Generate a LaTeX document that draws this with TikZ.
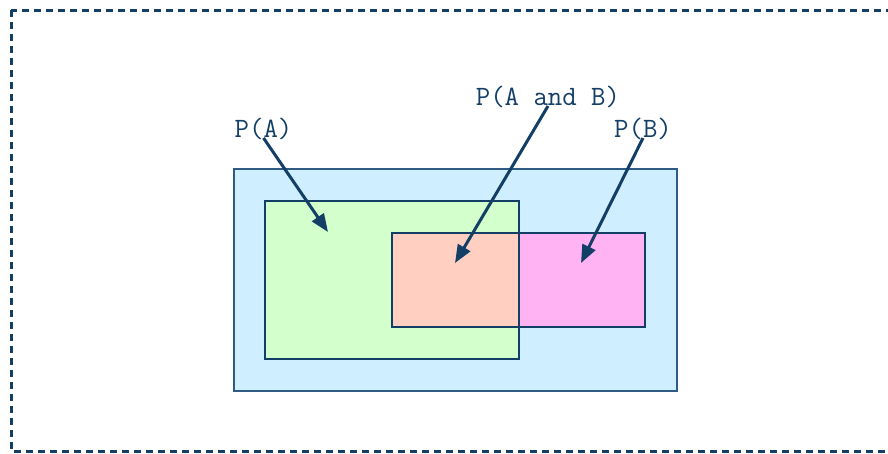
\documentclass[tikz,border=0pt]{standalone}
\usepackage{tikz}
\usetikzlibrary{arrows.meta}

\definecolor{navy}{HTML}{133E66}
\definecolor{edgeblue}{HTML}{2F5A84}
\definecolor{skyfill}{HTML}{CFEEFF}
\definecolor{greenfill}{HTML}{D2FFCB}
\definecolor{peachfill}{HTML}{FFD0C2}
\definecolor{pinkfill}{HTML}{FFB3F3}

\begin{document}
\begin{tikzpicture}[x=1pt,y=-1pt]
  \tikzstyle{region}=[rectangle,draw=navy,line width=1.8pt,inner sep=0pt,anchor=north west]
  \tikzstyle{label}=[inner sep=0pt,text height=16pt,text depth=0pt,text=navy,font=\ttfamily\fontsize{28}{30}\selectfont,anchor=south]
  \tikzstyle{pointer}=[draw=navy,line width=3pt,-{Triangle[length=18pt,width=14pt]}]
  \useasboundingbox (0,0) rectangle (888,453);
  \clip (0,0) rectangle (888,453);
  \draw [navy,line width=3pt,dash pattern=on 7pt off 5pt] (11,10) rectangle (905,451);
  % sample space and events
  \node [region,draw=edgeblue,fill=skyfill,minimum width=443pt,minimum height=222pt] (omega) at (233,168) {};
  \node [region,fill=greenfill,minimum width=254pt,minimum height=158pt] (evA) at (264,200) {};
  \node [region,fill=pinkfill,minimum width=253pt,minimum height=94pt] (evB) at (391,232) {};
  \node [region,fill=peachfill,minimum width=127pt,minimum height=94pt] (evAB) at (391,232) {};
  % labels
  \node [label] (pa)  at (263.5,138) {P(A)};
  \node [label] (pab) at (548,106)   {P(A and B)};
  \node [label] (pb)  at (643,138)   {P(B)};
  \coordinate (tipA)  at (328,232);
  \coordinate (tipAB) at (455,263);
  \coordinate (tipB)  at (581,263);
  \draw [pointer] (pa.south)  -- (tipA);
  \draw [pointer] (pab.south) -- (tipAB);
  \draw [pointer] (pb.south)  -- (tipB);
\end{tikzpicture}
\end{document}
